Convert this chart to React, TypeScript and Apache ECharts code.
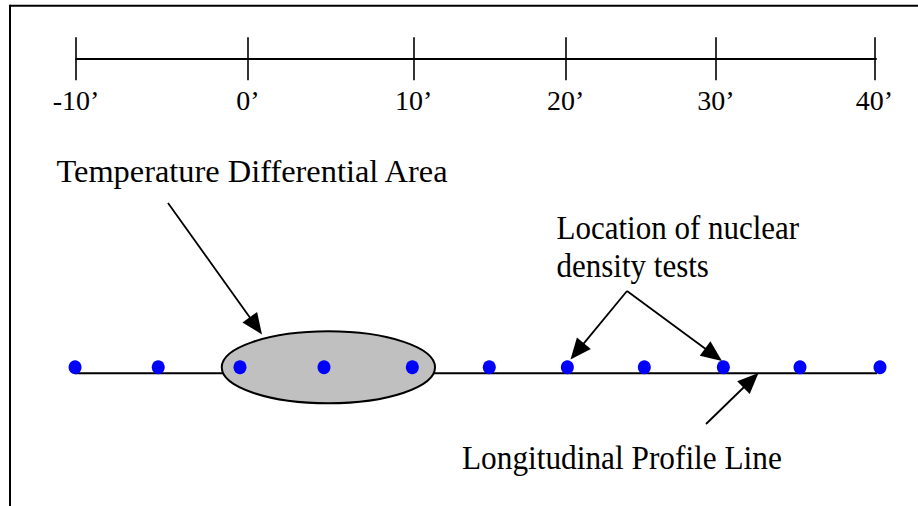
import React, { useEffect, useRef } from "react";
import * as echarts from "echarts";

// Ruler (top scale): labels and the drawn positions of their ticks, in feet
const rulerLabels = ["-10’", "0’", "10’", "20’", "30’", "40’"];
const rulerTickPos = [-10, 0.75, 11.1, 20.6, 30, 39.9];

// Nuclear density test locations along the profile line, in feet
const testPos = [-10.06, -4.86, 0.25, 5.5, 11.02, 15.83, 20.71, 25.52, 30.46, 35.25, 40.25];

// Longitudinal profile line extent, in feet
const profileExtent = [-10.42, 40.83];

// Temperature differential area extent (start, end), in feet
const tempArea = [-0.89, 12.44];

const FONT = '"Liberation Serif", "Times New Roman", serif';

function arrow(x1: number, y1: number, x2: number, y2: number, len = 21, w = 18): any[] {
  const dx = x2 - x1;
  const dy = y2 - y1;
  const d = Math.hypot(dx, dy);
  const ux = dx / d;
  const uy = dy / d;
  const bx = x2 - ux * len;
  const by = y2 - uy * len;
  const px = -uy;
  const py = ux;
  return [
    {
      type: "line",
      shape: { x1, y1, x2: bx + ux * 2, y2: by + uy * 2 },
      style: { stroke: "#000", lineWidth: 1.8 },
    },
    {
      type: "polygon",
      shape: {
        points: [
          [x2, y2],
          [bx + (px * w) / 2, by + (py * w) / 2],
          [bx - (px * w) / 2, by - (py * w) / 2],
        ],
      },
      style: { fill: "#000" },
    },
  ];
}

function label(text: string, x: number, y: number, sx = 1, sy = 1.1): any {
  return {
    type: "text",
    x,
    y,
    scaleX: sx,
    scaleY: sy,
    style: {
      text,
      font: `31px ${FONT}`,
      fill: "#000",
      align: "left",
      verticalAlign: "middle",
    },
  };
}

export default function App() {
  const ref = useRef<HTMLDivElement>(null);

  useEffect(() => {
    if (!ref.current) return;
    const chart = echarts.init(ref.current, undefined, { renderer: "svg" });

    const option: any = {
      animation: false,
      backgroundColor: "#fff",
      grid: [
        { left: 76, right: 42, top: 353, height: 40.6 },
        { left: 76, right: 42, top: 10, height: 48.3 },
      ],
      xAxis: [
        { gridIndex: 0, type: "value", min: -10, max: 40, show: false },
        {
          gridIndex: 1,
          type: "value",
          min: -10,
          max: 40,
          position: "bottom",
          axisLine: { show: true, lineStyle: { color: "#000", width: 2 } },
          axisTick: {
            show: true,
            customValues: rulerTickPos,
            length: 22,
            lineStyle: { color: "#000", width: 1.6 },
          },
          axisLabel: {
            show: true,
            customValues: rulerTickPos,
            margin: 42,
            verticalAlign: "middle",
            color: "#000",
            fontFamily: FONT,
            fontSize: 28,
            formatter: (v: number) => {
              let best = 0;
              for (let i = 1; i < rulerTickPos.length; i++) {
                if (Math.abs(rulerTickPos[i] - v) < Math.abs(rulerTickPos[best] - v)) best = i;
              }
              return rulerLabels[best];
            },
          },
          splitLine: { show: false },
        },
        {
          gridIndex: 1,
          type: "value",
          min: -10,
          max: 40,
          position: "bottom",
          axisLine: { show: false },
          axisTick: {
            show: true,
            inside: true,
            customValues: rulerTickPos,
            length: 21,
            lineStyle: { color: "#000", width: 1.6 },
          },
          axisLabel: { show: false },
          splitLine: { show: false },
        },
      ],
      yAxis: [
        { gridIndex: 0, type: "value", min: -1, max: 1, show: false },
        { gridIndex: 1, type: "value", min: 0, max: 1, show: false },
      ],
      series: [
        {
          type: "line",
          name: "Longitudinal Profile Line",
          xAxisIndex: 0,
          yAxisIndex: 0,
          data: profileExtent.map((x) => [x, 0]),
          symbol: "none",
          lineStyle: { color: "#000", width: 2 },
          clip: false,
          z: 1,
        },
        {
          type: "custom",
          name: "Temperature Differential Area",
          xAxisIndex: 0,
          yAxisIndex: 0,
          data: [tempArea],
          encode: { x: [0, 1] },
          renderItem: (params: any, api: any) => {
            const a = api.coord([api.value(0), 0]);
            const b = api.coord([api.value(1), 0]);
            return {
              type: "ellipse",
              shape: {
                cx: (a[0] + b[0]) / 2,
                cy: a[1] - 6,
                rx: (b[0] - a[0]) / 2,
                ry: 36,
              },
              style: { fill: "#c0c0c0", stroke: "#000", lineWidth: 2 },
            };
          },
          clip: false,
          z: 2,
        },
        {
          type: "scatter",
          name: "Location of nuclear density tests",
          xAxisIndex: 0,
          yAxisIndex: 0,
          data: testPos.map((x) => [x, 0]),
          symbol: "circle",
          symbolSize: [13, 14],
          symbolOffset: [0, -6],
          itemStyle: { color: "#0000ff", opacity: 1 },
          emphasis: { disabled: true },
          clip: false,
          z: 3,
        },
      ],
      graphic: [
        {
          type: "line",
          shape: { x1: 10, y1: 5.7, x2: 918, y2: 5.7 },
          style: { stroke: "#000", lineWidth: 2 },
        },
        {
          type: "line",
          shape: { x1: 10, y1: 4.7, x2: 10, y2: 506 },
          style: { stroke: "#000", lineWidth: 2 },
        },
        label("Temperature Differential Area", 56.5, 171.2, 1.045, 1.05),
        label("Location of nuclear", 556.5, 227.3),
        label("density tests", 556.5, 265),
        label("Longitudinal Profile Line", 462, 457.3, 1.01, 1.1),
        ...arrow(168, 203, 262, 334.4, 21, 18),
        ...arrow(627, 291, 570.5, 359.5, 21, 18),
        ...arrow(627, 291, 722, 361, 21, 18),
        ...arrow(706, 424, 758.5, 373, 21, 18),
      ],
    };

    chart.setOption(option);
    return () => chart.dispose();
  }, []);

  return (
    <div
      ref={ref}
      style={{ position: "fixed", left: 0, top: 0, width: 918, height: 506, background: "#fff" }}
    />
  );
}
